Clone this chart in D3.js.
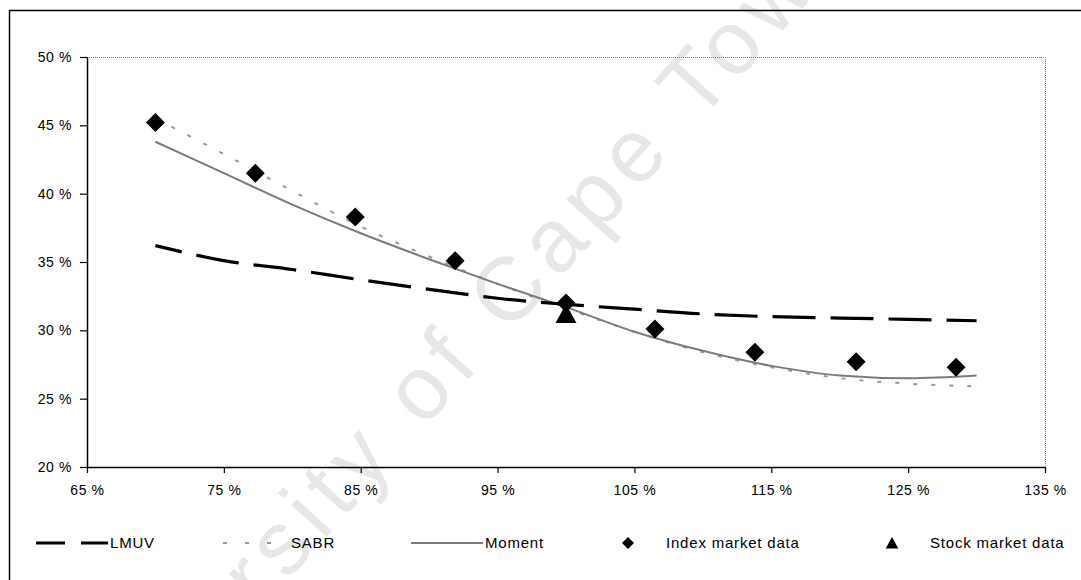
<!DOCTYPE html>
<html>
<head>
<meta charset="utf-8">
<script src="https://cdn.jsdelivr.net/npm/d3@7"></script>
<style>
  html, body { margin: 0; padding: 0; background: #fff; }
  svg { display: block; }
  text { font-family: "Liberation Sans", Arial, sans-serif; fill: #000; }
</style>
</head>
<body>
<svg id="chart" width="1081" height="580"></svg>
<script>
// Moneyness grid for the fitted curves (%)
const curveMoneyness = [70, 75, 80, 85, 90, 95, 100, 105, 110, 115, 120, 125, 130];
// Implied volatility (%) of each model along that grid
const lmuvVol   = [36.2, 35.1, 34.45, 33.7, 33.0, 32.35, 31.9, 31.55, 31.2, 31.0, 30.9, 30.8, 30.7];
const sabrVol   = [45.5, 42.9, 40.2, 37.6, 35.4, 33.4, 31.6, 29.9, 28.4, 27.3, 26.5, 26.1, 25.9];
const momentVol = [43.8, 41.5, 39.2, 37.1, 35.2, 33.4, 31.7, 29.9, 28.5, 27.4, 26.7, 26.5, 26.7];

// Observed quotes
const indexMoneyness = [70, 77.3, 84.6, 91.9, 100, 106.5, 113.8, 121.2, 128.5];
const indexVol       = [45.2, 41.5, 38.3, 35.1, 32.0, 30.1, 28.4, 27.7, 27.3];
const stockMoneyness = [100];
const stockVol       = [31.2];

// Axis ticks (%)
const xTicks = [65, 75, 85, 95, 105, 115, 125, 135];
const yTicks = [20, 25, 30, 35, 40, 45, 50];

// Legend entries
const legendLabels = ["LMUV", "SABR", "Moment", "Index market data", "Stock market data"];

const svg = d3.select("#chart");
const W = 1081, H = 580;
const plot = { left: 87, right: 1045, top: 57, bottom: 467 };

const x = d3.scaleLinear().domain([65, 135]).range([plot.left, plot.right]);
const y = d3.scaleLinear().domain([20, 50]).range([plot.bottom, plot.top]);

svg.append("rect").attr("width", W).attr("height", H).attr("fill", "#fff");

// faint diagonal watermark behind the chart
svg.append("text")
  .attr("transform", "translate(452,362) rotate(-48)")
  .attr("text-anchor", "middle")
  .attr("dominant-baseline", "middle")
  .style("font-size", "90px")
  .style("letter-spacing", "9px")
  .style("fill", "#e7e7e7")
  .text("University of Cape Town");

// outer frame (left and top edges)
svg.append("line").attr("x1", 9.5).attr("x2", 9.5).attr("y1", 10).attr("y2", H)
  .attr("stroke", "#000").attr("stroke-width", 1.5);
svg.append("line").attr("x1", 9).attr("x2", W).attr("y1", 10.5).attr("y2", 10.5)
  .attr("stroke", "#000").attr("stroke-width", 1.5);

// dotted top and right edges of the plot area
svg.append("path")
  .attr("d", `M${plot.left},${plot.top + 0.5}H${plot.right + 0.5}V${plot.bottom}`)
  .attr("fill", "none").attr("stroke", "#777").attr("stroke-width", 1)
  .attr("stroke-dasharray", "1,1");

// axes
const fmt = d => d + " %";
const yAxis = svg.append("g")
  .attr("transform", `translate(${plot.left},0)`)
  .call(d3.axisLeft(y).tickValues(yTicks).tickFormat(fmt).tickSize(7).tickSizeOuter(0).tickPadding(8));
const xAxis = svg.append("g")
  .attr("transform", `translate(0,${plot.bottom})`)
  .call(d3.axisBottom(x).tickValues(xTicks).tickFormat(fmt).tickSize(6).tickSizeOuter(0).tickPadding(12));
[yAxis, xAxis].forEach(g => {
  g.selectAll("path.domain").attr("stroke", "#000").attr("stroke-width", 1.5);
  g.selectAll(".tick line").attr("stroke", "#000").attr("stroke-width", 1.2);
  g.selectAll("text")
    .style("font-size", "14px")
    .style("letter-spacing", "0.6px")
    .style("font-family", "'Liberation Sans', Arial, sans-serif");
});

// fitted curves
const line = vals => d3.line().x((d, i) => x(curveMoneyness[i])).y(d => y(d)).curve(d3.curveMonotoneX)(vals);

svg.append("path").attr("d", line(sabrVol))
  .attr("fill", "none").attr("stroke", "#9a9a9a").attr("stroke-width", 2)
  .attr("stroke-dasharray", "4,14");
svg.append("path").attr("d", line(momentVol))
  .attr("fill", "none").attr("stroke", "#7c7c7c").attr("stroke-width", 2);
svg.append("path").attr("d", line(lmuvVol))
  .attr("fill", "none").attr("stroke", "#000").attr("stroke-width", 3.2)
  .attr("stroke-dasharray", "43,15").attr("stroke-dashoffset", 16);

// market quotes
const diamond = r => `M0,${-r}L${r},0L0,${r}L${-r},0Z`;
const triangle = r => `M0,${-r}L${r * 1.05},${r * 0.9}L${-r * 1.05},${r * 0.9}Z`;

svg.append("g").selectAll("path").data(indexVol).join("path")
  .attr("transform", (d, i) => `translate(${x(indexMoneyness[i])},${y(d)})`)
  .attr("d", diamond(9.5)).attr("fill", "#000");

svg.append("g").selectAll("path").data(stockVol).join("path")
  .attr("transform", (d, i) => `translate(${x(stockMoneyness[i])},${y(d)})`)
  .attr("d", triangle(10)).attr("fill", "#000");

// legend: a 72px symbol slot followed by the label
const ly = 543;
const labelX = [110, 291, 485, 666, 930];
const slot = i => [labelX[i] - 74, labelX[i] - 2];
const lg = svg.append("g");
lg.append("line").attr("x1", slot(0)[0]).attr("x2", slot(0)[1]).attr("y1", ly).attr("y2", ly)
  .attr("stroke", "#000").attr("stroke-width", 3.2).attr("stroke-dasharray", "29,16");
lg.append("line").attr("x1", slot(1)[0] + 6).attr("x2", slot(1)[1]).attr("y1", ly).attr("y2", ly)
  .attr("stroke", "#9a9a9a").attr("stroke-width", 2).attr("stroke-dasharray", "4,18");
lg.append("line").attr("x1", slot(2)[0]).attr("x2", slot(2)[1]).attr("y1", ly).attr("y2", ly)
  .attr("stroke", "#7c7c7c").attr("stroke-width", 2);
lg.append("path").attr("transform", `translate(${(slot(3)[0] + slot(3)[1]) / 2},${ly})`)
  .attr("d", diamond(6)).attr("fill", "#000");
lg.append("path").attr("transform", `translate(${(slot(4)[0] + slot(4)[1]) / 2},${ly})`)
  .attr("d", triangle(6)).attr("fill", "#000");

lg.selectAll("text").data(legendLabels).join("text")
  .attr("x", (d, i) => labelX[i]).attr("y", ly)
  .attr("dy", "0.35em")
  .style("font-size", "15px")
  .style("letter-spacing", "0.8px")
  .text(d => d);
</script>
</body>
</html>
